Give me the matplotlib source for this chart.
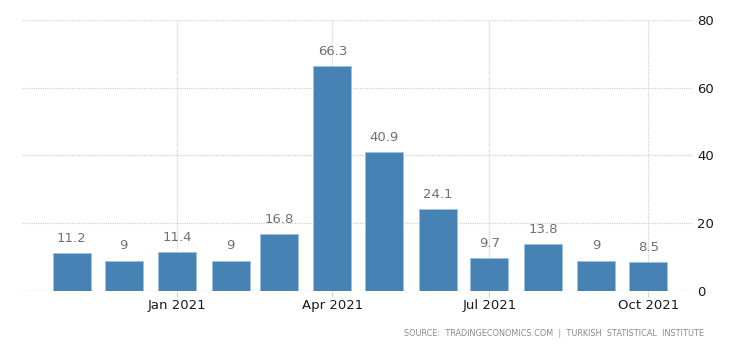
import numpy as np
import matplotlib
matplotlib.use('Agg')
import matplotlib.pyplot as plt
import matplotlib.dates as mdates
from datetime import date

# monthly values, Nov 2020 .. Oct 2021
months = ['2020-11', '2020-12', '2021-01', '2021-02', '2021-03', '2021-04',
          '2021-05', '2021-06', '2021-07', '2021-08', '2021-09', '2021-10']
values = [11.2, 9, 11.4, 9, 16.8, 66.3, 40.9, 24.1, 9.7, 13.8, 9, 8.5]
value_labels = ['11.2', '9', '11.4', '9', '16.8', '66.3', '40.9', '24.1',
                '9.7', '13.8', '9', '8.5']
xtick_dates = ['2021-01', '2021-04', '2021-07', '2021-10']
xtick_labels = ['Jan 2021', 'Apr 2021', 'Jul 2021', 'Oct 2021']
yticks = [0, 20, 40, 60, 80]
source = 'SOURCE:  TRADINGECONOMICS.COM  |  TURKISH  STATISTICAL  INSTITUTE'


def to_num(s):
    y, m = s.split('-')
    return mdates.date2num(date(int(y), int(m), 1))


x = np.array([to_num(m) for m in months])
xt = [to_num(m) for m in xtick_dates]

fig = plt.figure(figsize=(7.5, 3.49), dpi=100)
ax = fig.add_axes([0.029, 0.166, 0.895, 0.777])

bar_color = '#4682b4'
ax.bar(x, values, width=22, color=bar_color, edgecolor='#9cc1df',
       linewidth=0.6, zorder=3)
for xi, v, lab in zip(x, values, value_labels):
    ax.text(xi, v + 2.4, lab, ha='center', va='bottom', fontsize=9.5,
            color='#707070', zorder=4)

ax.set_xlim(to_num('2020-10') + 2, to_num('2021-10') + 26)
ax.set_ylim(0, 80)

ax.set_xticks(xt)
ax.set_xticklabels(xtick_labels)
ax.set_yticks(yticks)
ax.yaxis.tick_right()

ax.grid(True, color='#d4d4d4', linestyle=(0, (1, 0.8)), linewidth=0.9, zorder=0)
ax.tick_params(axis='x', length=4, color='#d4d4d4', labelsize=9.5,
               labelcolor='#1a1a1a', pad=2)
ax.tick_params(axis='y', length=0, labelsize=9.5, labelcolor='#1a1a1a', pad=3)

for s in ax.spines.values():
    s.set_visible(False)
ax.axhline(0, color='#d4d4d4', linestyle=(0, (1, 0.8)), linewidth=0.9, zorder=1)

fig.text(0.939, 0.045, source, ha='right', va='center', fontsize=5.9,
         color='#8a8a8a')

fig.savefig('out.png', dpi=100)
